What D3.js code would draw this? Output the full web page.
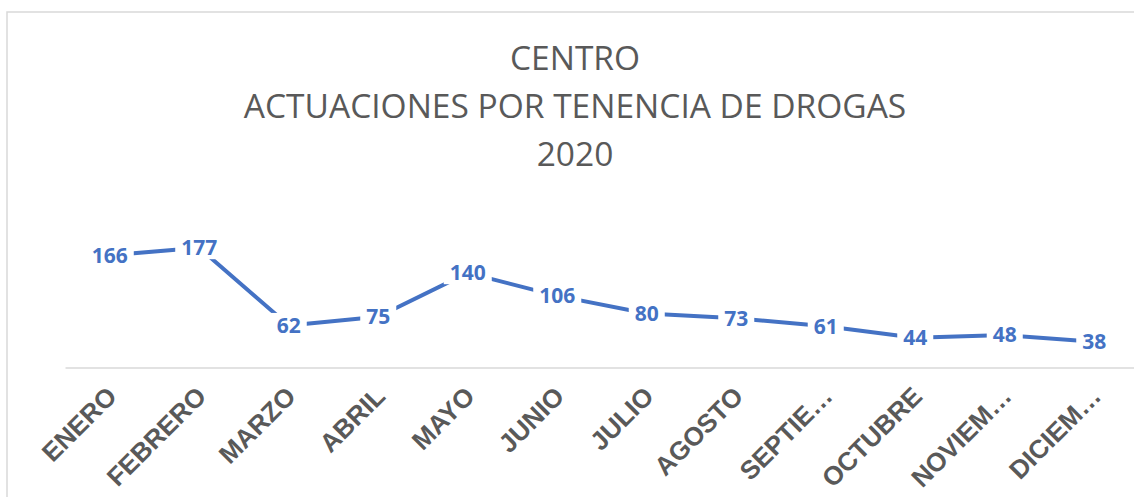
<!DOCTYPE html>
<html>
<head>
<meta charset="utf-8">
<script src="https://cdn.jsdelivr.net/npm/d3@7"></script>
<style>
  html, body { margin: 0; padding: 0; background: #fff; }
  svg { display: block; }
</style>
</head>
<body>
<script>
var W = 1134,
    H = 497;

// data
var months = ['ENERO', 'FEBRERO', 'MARZO', 'ABRIL', 'MAYO', 'JUNIO', 'JULIO',
              'AGOSTO', 'SEPTIE…', 'OCTUBRE', 'NOVIEM…', 'DICIEM…'];
var values = [166, 177, 62, 75, 140, 106, 80, 73, 61, 44, 48, 38];
var titleLines = ['CENTRO', 'ACTUACIONES POR TENENCIA DE DROGAS', '2020'];

var LINE_COLOR = '#4472C4',
    TEXT_COLOR = '#595959',
    GRID_COLOR = '#d9d9d9';

var PLOT_L = 65,
    PLOT_R = 1139,
    AXIS_Y = 367.5;

var svg = d3.select('body').append('svg')
    .attr('width', W)
    .attr('height', H);

// chart border (partly outside the picture)
svg.append('rect')
    .attr('x', 7)
    .attr('y', 12)
    .attr('width', W + 20)
    .attr('height', H + 20)
    .attr('fill', 'none')
    .attr('stroke', GRID_COLOR)
    .attr('stroke-width', 1.5);

// title
svg.append('g').selectAll('text')
    .data(titleLines)
    .enter().append('text')
    .attr('x', 575)
    .attr('y', function (d, i) { return 70 + i * 48; })
    .attr('text-anchor', 'middle')
    .attr('font-family', '"Open Sans", sans-serif')
    .attr('font-size', 33.5)
    .attr('fill', TEXT_COLOR)
    .text(function (d) { return d; });

var x = d3.scaleBand()
    .domain(months)
    .range([PLOT_L, PLOT_R]);

var y = d3.scaleLinear()
    .domain([0, 200])
    .range([AXIS_Y, AXIS_Y - 200 * 0.676]);

// category axis
var xAxis = d3.axisBottom(x).tickSize(0).tickPadding(0);
var axisG = svg.append('g')
    .attr('transform', 'translate(0,' + AXIS_Y + ')')
    .call(xAxis);
axisG.select('.domain')
    .attr('stroke', GRID_COLOR)
    .attr('stroke-width', 1.5);
axisG.selectAll('.tick text')
    .attr('font-family', '"Liberation Sans", Arial, sans-serif')
    .attr('font-weight', 'bold')
    .attr('font-size', 26)
    .attr('fill', TEXT_COLOR)
    .attr('text-anchor', 'end')
    .attr('dy', '0.35em')
    .attr('transform', 'translate(2,24) rotate(-45)');

// series line
var line = d3.line()
    .x(function (d, i) { return x(months[i]) + x.bandwidth() / 2; })
    .y(function (d) { return y(d); });

svg.append('path')
    .datum(values)
    .attr('d', line)
    .attr('fill', 'none')
    .attr('stroke', LINE_COLOR)
    .attr('stroke-width', 4)
    .attr('stroke-linejoin', 'round');

// data labels centred on the points, with a white box that cuts the line
var labels = svg.append('g').selectAll('g')
    .data(values)
    .enter().append('g')
    .attr('transform', function (d, i) {
        return 'translate(' + (x(months[i]) + x.bandwidth() / 2) + ',' + y(d) + ')';
    });

labels.append('text')
    .attr('text-anchor', 'middle')
    .attr('dy', '0.35em')
    .attr('font-family', '"Open Sans", sans-serif')
    .attr('font-weight', 'bold')
    .attr('font-size', 21)
    .attr('fill', LINE_COLOR)
    .text(function (d) { return d; });

labels.each(function () {
    var g = d3.select(this),
        b = g.select('text').node().getBBox();
    g.insert('rect', 'text')
        .attr('x', b.x - 6)
        .attr('y', b.y + 2)
        .attr('width', b.width + 12)
        .attr('height', b.height - 4)
        .attr('fill', '#fff');
});
</script>
</body>
</html>
